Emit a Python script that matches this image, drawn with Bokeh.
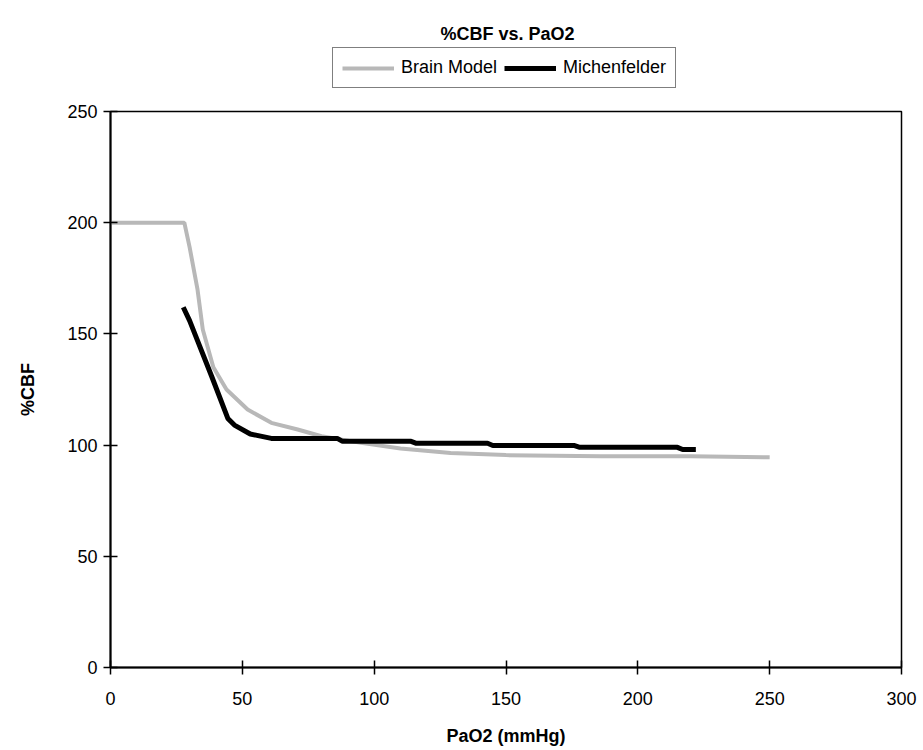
from bokeh.plotting import figure
from bokeh.layouts import column
from bokeh.models import Range1d, FixedTicker, Legend, LegendItem, Label
from bokeh.embed import file_html
from bokeh.resources import INLINE

# Data
brain_x = [0, 28, 30, 33, 35, 39, 44, 52, 61, 71, 80, 95, 110, 129, 150, 186, 220, 250]
brain_y = [200, 200, 189, 170, 152, 135, 125, 116, 110, 107, 104, 101, 98.5, 96.5, 95.5, 95, 95, 94.5]

mich_x = [27.6, 30, 33, 38.5, 44.5, 47, 53, 61, 86, 88, 114, 116, 143, 145, 176, 178, 215, 217, 222]
mich_y = [162, 156, 147, 130.5, 112, 109, 105, 103, 103, 101.7, 101.7, 100.8, 100.8, 99.8, 99.8, 99, 99, 98, 98]

x_ticks = [0, 50, 100, 150, 200, 250, 300]
y_ticks = [0, 50, 100, 150, 200, 250]

series_names = ["Brain Model", "Michenfelder"]
series_colors = ["#b8b8b8", "black"]
series_widths = [4, 5]

FONT = "Liberation Sans"
W = 920
TOP_H = 101
LEFT = 110

# ---------- header: title + legend (frame aligned with main plot's frame) ----------
head = figure(width=W, height=TOP_H, output_backend="svg", toolbar_location=None,
              x_range=Range1d(0, 1), y_range=Range1d(0, 1),
              min_border=0, x_axis_type=None, y_axis_type=None)
head.outline_line_color = None
head.xgrid.visible = False
head.ygrid.visible = False
head.background_fill_color = "white"
head.border_fill_color = "white"

# legend carriers: same series, lying entirely outside this header's view (clipped)
legend_renderers = [head.line(xs, ys, line_color=c, line_width=w)
                    for xs, ys, c, w in zip([brain_x, mich_x], [brain_y, mich_y],
                                            series_colors, series_widths)]

title = Label(x=507 - LEFT, y=68, x_units="screen", y_units="screen", text="%CBF vs. PaO2",
              text_font=FONT, text_font_size="18px", text_font_style="bold",
              text_align="center", text_baseline="middle", text_color="black")
head.add_layout(title)

legend = Legend(items=[LegendItem(label=n, renderers=[r]) for n, r in zip(series_names, legend_renderers)],
                location=(332 - LEFT, 13), orientation="horizontal",
                label_text_font=FONT, label_text_font_size="18px", label_text_color="black",
                glyph_width=52, glyph_height=20, label_height=20, label_standoff=7,
                spacing=7, padding=9, margin=0,
                border_line_color="black", border_line_width=1.5,
                background_fill_color="white", background_fill_alpha=1)
head.add_layout(legend)

# ---------- main plot ----------
p = figure(frame_width=791, frame_height=556, output_backend="svg", toolbar_location=None,
           x_range=Range1d(0, 300), y_range=Range1d(0, 250),
           min_border_left=LEFT, min_border_right=W - LEFT - 791, min_border_top=10, min_border_bottom=80)
p.background_fill_color = "white"
p.border_fill_color = "white"
p.xgrid.visible = False
p.ygrid.visible = False
p.outline_line_color = "black"
p.outline_line_width = 1.5

p.line(brain_x, brain_y, line_color=series_colors[0], line_width=series_widths[0])
p.line(mich_x, mich_y, line_color=series_colors[1], line_width=series_widths[1])

for ax, ticks in ((p.xaxis, x_ticks), (p.yaxis, y_ticks)):
    ax.ticker = FixedTicker(ticks=ticks)
    ax.minor_tick_line_color = None
    ax.major_tick_in = 7
    ax.major_tick_out = 7
    ax.major_tick_line_width = 1.5
    ax.major_tick_line_color = "black"
    ax.axis_line_width = 2
    ax.axis_line_color = "black"
    ax.major_label_text_font = FONT
    ax.major_label_text_font_size = "18px"
    ax.major_label_text_color = "black"
    ax.axis_label_text_font = FONT
    ax.axis_label_text_font_size = "18px"
    ax.axis_label_text_font_style = "bold"
    ax.axis_label_text_color = "black"

p.xaxis.axis_label = "PaO2 (mmHg)"
p.yaxis.axis_label = "%CBF"
p.xaxis.major_label_standoff = 17
p.xaxis.axis_label_standoff = 18
p.yaxis.major_label_standoff = 6
p.yaxis.axis_label_standoff = 26

layout = column(head, p, spacing=0)
open("out.html", "w").write(file_html(layout, INLINE))
